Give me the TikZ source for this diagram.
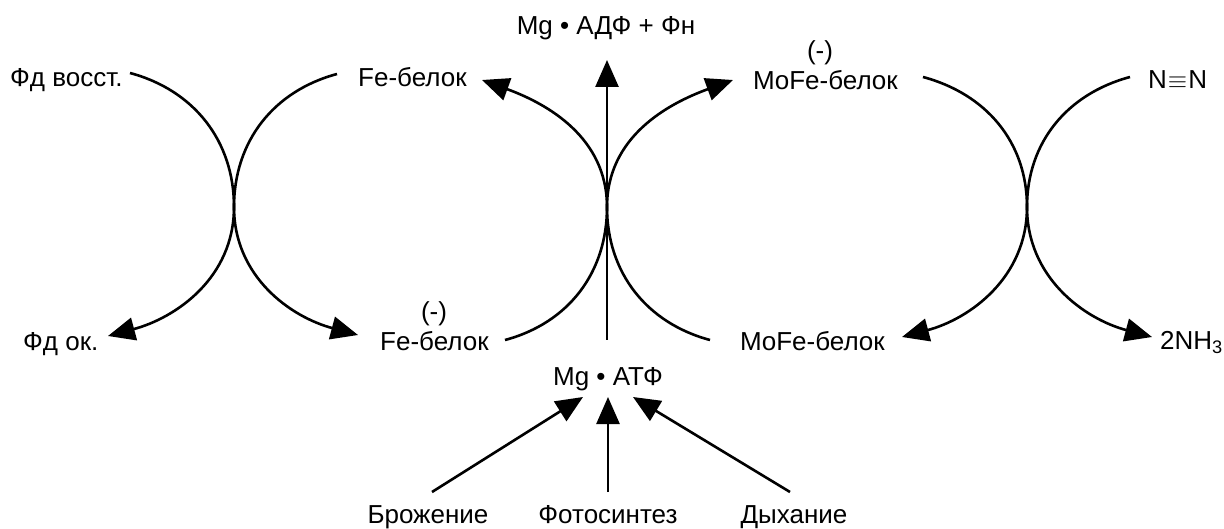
\documentclass[tikz,border=0pt]{standalone}
\usepackage{fontspec}
\setmainfont{Liberation Sans}
\usetikzlibrary{arrows.meta}
\begin{document}
\begin{tikzpicture}[x=1pt,y=1pt,
  lbl/.style={font=\fontsize{26}{30}\selectfont, inner sep=0pt},
  arr/.style={line width=2.6pt, -{Triangle[length=27pt,width=23pt]}},
  ln/.style={line width=2.6pt}]
\useasboundingbox (0,0) rectangle (1224,-529);
% labels
\node[lbl, anchor=base west] (fdv) at (10,-87) {Фд восст.};
\node[lbl, anchor=base west] (fe1) at (358,-87) {Fe-белок};
\node[lbl, anchor=base] (adf) at (606,-35) {Mg • АДФ + Фн};
\node[lbl, anchor=base] (mn1) at (820,-60) {(-)};
\node[lbl, anchor=base west] (mofe1) at (753,-90) {MoFe-белок};
\node[lbl, anchor=base west] (n2) at (1148,-89) {N\kern1pt{\fontsize{24}{24}\selectfont$\equiv$}\kern1pt N};
\node[lbl, anchor=base west] (fdo) at (23,-351) {Фд ок.};
\node[lbl, anchor=base] (mn2) at (434,-321) {(-)};
\node[lbl, anchor=base west] (fe2) at (380,-351) {Fe-белок};
\node[lbl, anchor=base west] (mofe2) at (740,-351) {MoFe-белок};
\node[lbl, anchor=base west] (nh3) at (1160,-349) {2NH\textsubscript{3}};
\node[lbl, anchor=base] (atp) at (608,-385) {Mg • АТФ};
\node[lbl, anchor=base] (bro) at (428,-523) {Брожение};
\node[lbl, anchor=base] (fot) at (608,-523) {Фотосинтез};
\node[lbl, anchor=base] (dyh) at (794,-523) {Дыхание};
% ports and crossing points
\coordinate (fdv-o) at (130,-73);
\coordinate (fdo-i) at (108,-336);
\coordinate (fe1-o) at (337,-74);
\coordinate (fe2-i) at (358,-335);
\coordinate (xl) at (234,-207);
\coordinate (fe2-o) at (505,-340);
\coordinate (fe1-i) at (482,-80);
\coordinate (mofe2-o) at (710,-340);
\coordinate (mofe1-i) at (733,-80);
\coordinate (xc) at (607,-207);
\coordinate (atp-o) at (607,-340);
\coordinate (adf-i) at (607,-60);
\coordinate (mofe1-o) at (923,-77);
\coordinate (mofe2-i) at (902,-337);
\coordinate (n2-o) at (1130,-77);
\coordinate (nh3-i) at (1152,-337);
\coordinate (xr) at (1027,-207);
\coordinate (bro-o) at (432,-492);
\coordinate (fot-o) at (608,-492);
\coordinate (dyh-o) at (790,-492);
\coordinate (atp-l) at (583,-397);
\coordinate (atp-m) at (608,-397);
\coordinate (atp-r) at (633,-397);
% left cross
\draw[arr] (fdv-o) to[out=-15,in=90] (xl) to[out=-90,in=15] (fdo-i);
\draw[arr] (fe1-o) to[out=195,in=90] (xl) to[out=-90,in=165] (fe2-i);
% centre
\draw[arr] (fe2-o) to[out=15,in=-90] (xc) to[out=90,in=-20] (fe1-i);
\draw[arr] (mofe2-o) to[out=165,in=-90] (xc) to[out=90,in=200] (mofe1-i);
\draw[arr] (atp-o) -- (adf-i);
% right cross
\draw[arr] (mofe1-o) to[out=-15,in=90] (xr) to[out=-90,in=15] (mofe2-i);
\draw[arr] (n2-o) to[out=195,in=90] (xr) to[out=-90,in=165] (nh3-i);
% ATP sources
\draw[arr] (bro-o) -- (atp-l);
\draw[arr] (fot-o) -- (atp-m);
\draw[arr] (dyh-o) -- (atp-r);
\end{tikzpicture}
\end{document}
